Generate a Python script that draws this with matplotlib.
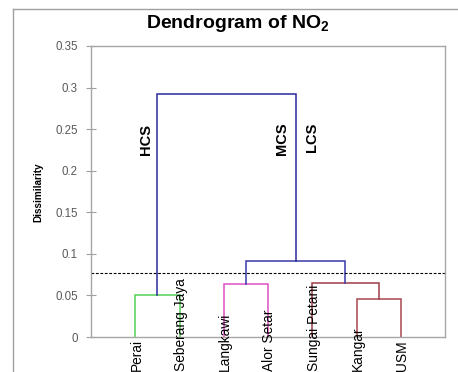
import matplotlib
matplotlib.use("Agg")
import matplotlib.pyplot as plt
from matplotlib.lines import Line2D
from matplotlib.transforms import blended_transform_factory

plt.rcParams["font.family"] = ["Liberation Sans", "DejaVu Sans"]
plt.rcParams["mathtext.fontset"] = "custom"
plt.rcParams["mathtext.rm"] = "Liberation Sans:bold"
plt.rcParams["mathtext.bf"] = "Liberation Sans:bold"

# leaves in dendrogram order
leaves = ["Perai", "Seberang Jaya", "Langkawi", "Alor Setar",
          "Sungai Petani", "Kangar", "USM"]
# merges: (child a, child b, height); new cluster ids start at len(leaves)
merges = [(0, 1, 0.050), (2, 3, 0.064), (5, 6, 0.046),
          (4, 9, 0.065), (8, 10, 0.092), (7, 11, 0.292)]
merge_colors = ["#55D055", "#E050C4", "#A84850", "#9C3C48", "#3838A8", "#2A2A9C"]
cut_level = 0.0775
yticks = [0, 0.05, 0.1, 0.15, 0.2, 0.25, 0.3, 0.35]
ytick_labels = ["0", "0.05", "0.1", "0.15", "0.2", "0.25", "0.3", "0.35"]
group_names = ["HCS", "MCS", "LCS"]
group_pos = [(1.24, 0.237), (4.32, 0.238), (4.99, 0.240)]

fig = plt.figure(figsize=(4.58, 3.72), dpi=100)
ax = fig.add_axes([91 / 458, 35 / 372, 354 / 458, 291 / 372])

# cluster x positions and heights
xpos = {i: i + 1 for i in range(len(leaves))}
hgt = {i: 0.0 for i in range(len(leaves))}
for k, (a, b, h) in enumerate(merges):
    cid = len(leaves) + k
    c = merge_colors[k]
    ax.plot([xpos[a], xpos[a], xpos[b], xpos[b]], [hgt[a], h, h, hgt[b]],
            color=c, lw=1.1, solid_joinstyle="miter")
    xpos[cid] = (xpos[a] + xpos[b]) / 2
    hgt[cid] = h

ax.axhline(cut_level, color="black", lw=0.8, ls=(0, (2.5, 1.5)))

ax.set_xlim(0, len(leaves) + 1)
ax.set_ylim(0, 0.35)
ax.set_yticks(yticks)
ax.set_yticklabels(ytick_labels, fontsize=8.3, color="#595959")
ax.set_xticks([])
ax.tick_params(axis="y", direction="inout", length=7, width=0.8,
               color="#A0A0A0", pad=6)
for s in ax.spines.values():
    s.set_color("#A6A6A6")
    s.set_linewidth(1.0)

# leaf labels, bottom-anchored near the figure edge
label_tr = blended_transform_factory(ax.transData, fig.transFigure)
for i, name in enumerate(leaves):
    ax.text(i + 1.03, 0.004, name, rotation=90, ha="center", va="bottom",
            fontsize=9.9, color="black", transform=label_tr)

for name, (gx, gy) in zip(group_names, group_pos):
    ax.text(gx, gy, name, rotation=90, ha="center", va="center",
            fontsize=10.5, fontweight="bold", color="black")

fig.text(38 / 458, 1 - 192 / 372, "Dissimilarity", rotation=90, ha="center",
         va="center", fontsize=7.2, fontweight="bold")
fig.text(238 / 458, 1 - 24 / 372, r"Dendrogram of NO$_{2}$", ha="center",
         va="center", fontsize=14, fontweight="bold")

# outer chart frame (left and top edges)
fig.add_artist(Line2D([13 / 458, 13 / 458], [0, 1 - 9 / 372],
                      color="#A0A0A0", lw=1.0, transform=fig.transFigure))
fig.add_artist(Line2D([13 / 458, 457 / 458], [1 - 9 / 372, 1 - 9 / 372],
                      color="#A0A0A0", lw=1.0, transform=fig.transFigure))

fig.savefig("out.png", dpi=100)
